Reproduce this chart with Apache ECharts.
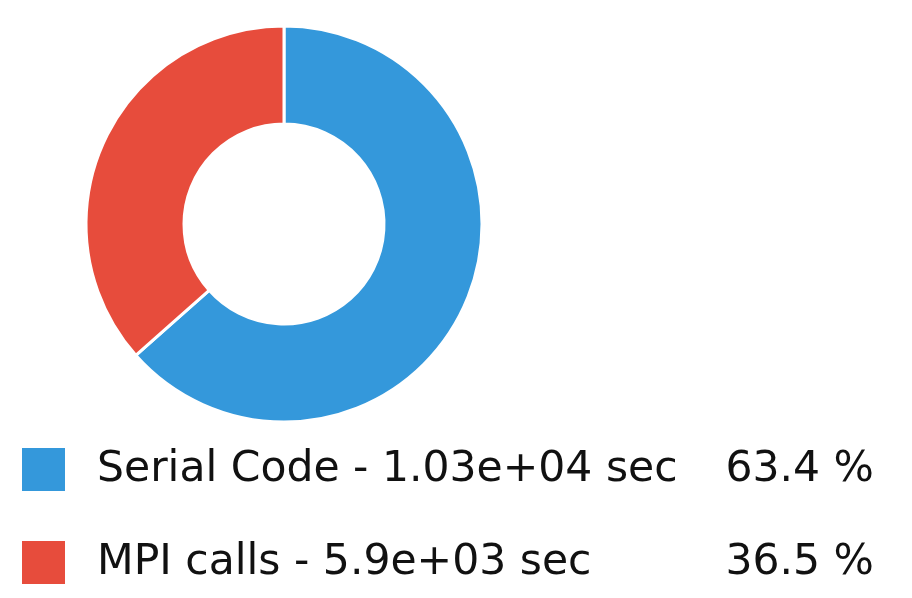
<!DOCTYPE html>
<html>
<head>
<meta charset="utf-8">
<script src="https://cdn.jsdelivr.net/npm/echarts@6/dist/echarts.min.js"></script>
<style>html,body{margin:0;padding:0;background:#fff;}#c{width:912px;height:598px;}</style>
</head>
<body>
<div id="c"></div>
<script>
const names = ['Serial Code', 'MPI calls'];
const seconds = ['1.03e+04', '5.9e+03'];
const percents = [63.4, 36.5];
const colors = ['#3498db', '#e74c3c'];

const chart = echarts.init(document.getElementById('c'), null, {renderer: 'canvas'});
const data = names.map((n, i) => ({name: n, value: percents[i], itemStyle: {color: colors[i]}}));
chart.setOption({
  animation: false,
  legend: {
    orient: 'vertical',
    left: 20,
    top: 446,
    padding: 0,
    itemWidth: 45,
    itemHeight: 45,
    itemGap: 46,
    icon: 'rect',
    selectedMode: false,
    data: names,
    formatter: function (name) {
      const i = names.indexOf(name);
      return '{n|' + name + ' - ' + seconds[i] + ' sec}{p|' + percents[i].toFixed(1) + ' %}';
    },
    textStyle: {
      padding: [0, 0, 0, 26],
      rich: {
        n: {fontFamily: 'DejaVu Sans', fontSize: 42.5, color: '#111', width: 600, lineHeight: 45},
        p: {fontFamily: 'DejaVu Sans', fontSize: 42.5, color: '#111', width: 177, align: 'right', lineHeight: 45}
      }
    }
  },
  series: [{
    type: 'pie',
    center: [284, 224],
    radius: [100, 198],
    startAngle: 90,
    clockwise: true,
    label: {show: false},
    labelLine: {show: false},
    emphasis: {disabled: true},
    itemStyle: {borderColor: '#fff', borderWidth: 3},
    data: data
  }]
});
</script>
</body>
</html>
